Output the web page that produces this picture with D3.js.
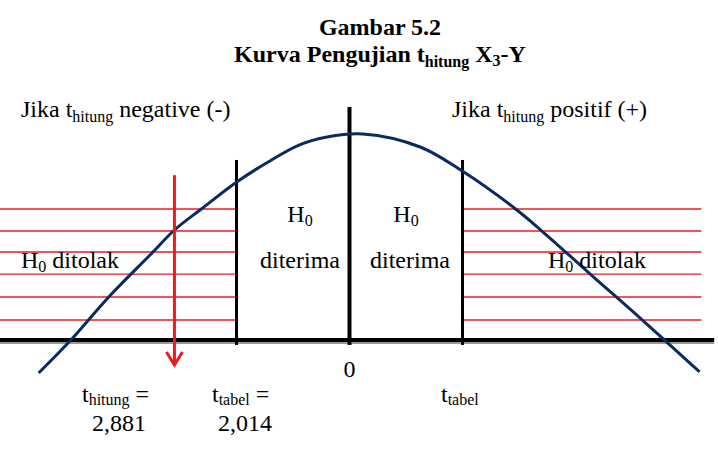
<!DOCTYPE html>
<html><head><meta charset="utf-8">
<script src="https://cdn.jsdelivr.net/npm/d3@7"></script>
<style>html,body{margin:0;padding:0;background:#fff;} text{font-family:"Liberation Serif","Times New Roman",serif;fill:#000;}</style>
</head><body><svg id="c" width="718" height="456"></svg>
<script>
// ---- data (t units on x, relative density on y) ----
const curveT = [-5.54,-5.00,-4.29,-3.52,-3.12,-2.64,-2.01,-1.48,-0.89,-0.40,0.24,1.26,2.01,2.96,3.43,4.27,5.22,6.24];
const curveY = [-0.160,-0.010,0.209,0.422,0.534,0.636,0.767,0.859,0.947,0.985,1.000,0.937,0.820,0.636,0.529,0.325,0.097,-0.155];
const hatchLevels = [0.636,0.529,0.427,0.320,0.209,0.097];
const tTabel = 2.014;
const tHitung = -3.12;       // arrow position as drawn
const hatchExtent = [-6.27, 6.27];
const baseExtent = [-6.3, 6.5];
const centerTop = 1.131, tabelTop = 0.874, lineBottom = -0.024;
const arrowTop = 0.80, arrowBottom = -0.121;
const labelHitung = "2,881", labelTabel = "2,014";

const svg = d3.select("#c");
const x = d3.scaleLinear().domain([-tTabel, tTabel]).range([236.5, 462.5]);
const y = d3.scaleLinear().domain([0, 1]).range([340, 134]);

// hatch lines
const red = "#f0191e";
hatchLevels.forEach(v => {
  svg.append("line").attr("x1", x(hatchExtent[0])).attr("x2", x(-tTabel)).attr("y1", y(v)).attr("y2", y(v))
     .attr("stroke", red).attr("stroke-width", 1.4);
  svg.append("line").attr("x1", x(tTabel)).attr("x2", x(hatchExtent[1])).attr("y1", y(v)).attr("y2", y(v))
     .attr("stroke", red).attr("stroke-width", 1.4);
});

// baseline with shadow
svg.append("line").attr("x1", x(baseExtent[0])).attr("x2", x(baseExtent[1])).attr("y1", y(0)+2.5).attr("y2", y(0)+2.5)
   .attr("stroke", "#9a9a9a").attr("stroke-width", 3);
svg.append("line").attr("x1", x(baseExtent[0])).attr("x2", x(baseExtent[1])).attr("y1", y(0)).attr("y2", y(0))
   .attr("stroke", "#000").attr("stroke-width", 4);

// vertical lines
svg.append("line").attr("x1", x(0)).attr("x2", x(0)).attr("y1", y(centerTop)).attr("y2", y(lineBottom))
   .attr("stroke", "#000").attr("stroke-width", 4);
[-tTabel, tTabel].forEach(t => {
  svg.append("line").attr("x1", x(t)).attr("x2", x(t)).attr("y1", y(tabelTop)).attr("y2", y(lineBottom))
     .attr("stroke", "#000").attr("stroke-width", 3);
});

// curve
const pts = curveT.map((t, i) => [t, curveY[i]]);
svg.append("path").datum(pts)
   .attr("d", d3.line().x(d => x(d[0])).y(d => y(d[1])).curve(d3.curveCatmullRom.alpha(0.5)))
   .attr("fill", "none").attr("stroke", "#0c2a5e").attr("stroke-width", 3);

// arrow
svg.append("line").attr("x1", x(tHitung)).attr("x2", x(tHitung)).attr("y1", y(arrowTop)).attr("y2", y(arrowBottom)-1)
   .attr("stroke", red).attr("stroke-width", 3);
svg.append("path")
   .attr("d", d3.line()([[x(tHitung)-8, y(arrowBottom)-13], [x(tHitung), y(arrowBottom)], [x(tHitung)+8, y(arrowBottom)-13]]))
   .attr("fill", "none").attr("stroke", red).attr("stroke-width", 3);

// text helper
function txt(parts, px, py, size, anchor, weight) {
  const t = svg.append("text").attr("x", px).attr("y", py).attr("font-size", size)
    .attr("text-anchor", anchor || "start").attr("font-weight", weight || "normal");
  let shift = 0;
  parts.forEach(p => {
    const s = t.append("tspan").text(p[0]);
    const want = p[1] ? p[1].dy : 0;
    if (want !== shift) { s.attr("dy", want - shift); shift = want; }
    if (p[1] && p[1].size) s.attr("font-size", p[1].size);
  });
  return t;
}
const SUB = (sz, d) => ({dy: d, size: sz});
const F = 24, S = 16;

txt([["Gambar 5.2"]], 380, 35, F, "middle", "bold");
txt([["Kurva Pengujian t"], ["hitung", SUB(S, 5)], [" X"], ["3", SUB(S, 4)], ["-Y"]], 380, 62, F, "middle", "bold");

txt([["Jika t"], ["hitung", SUB(S, 5)], ["  negative (-)"]], 21, 117, F);
txt([["Jika t"], ["hitung", SUB(S, 5)], ["  positif (+)"]], 452, 117, F);

txt([["H"], ["0", SUB(S, 4)]], 300, 222, F, "middle");
txt([["H"], ["0", SUB(S, 4)]], 406, 222, F, "middle");
txt([["diterima"]], 300, 268, F, "middle");
txt([["diterima"]], 410, 268, F, "middle");
txt([["H"], ["0", SUB(S, 4)], [" ditolak"]], 21, 268, F);
txt([["H"], ["0", SUB(S, 4)], [" ditolak"]], 548, 268, F);

txt([["0"]], x(0), 377, F, "middle");

txt([["t"], ["hitung", SUB(S, 3)], [" ="]], 82, 402, F);
txt([[labelHitung]], 92, 431, F);
txt([["t"], ["tabel", SUB(S, 3)], [" ="]], 212, 402, F);
txt([[labelTabel]], 218, 431, F);
txt([["t"], ["tabel", SUB(S, 3)]], 441, 402, F);
</script></body></html>
